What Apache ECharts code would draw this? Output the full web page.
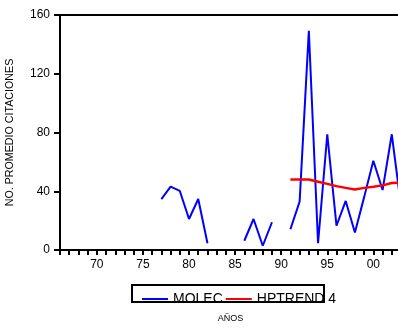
<!DOCTYPE html>
<html>
<head>
<meta charset="utf-8">
<script src="https://cdn.jsdelivr.net/npm/echarts@6/dist/echarts.min.js"></script>
<style>
  html, body { margin: 0; padding: 0; background: #fff; }
  #chart { width: 398px; height: 327px; }
</style>
</head>
<body>
<div id="chart"></div>
<script>
// Years of observation
const years = [1977, 1978, 1979, 1980, 1981, 1982, 1983, 1984, 1985, 1986, 1987, 1988, 1989, 1990,
               1991, 1992, 1993, 1994, 1995, 1996, 1997, 1998, 1999, 2000, 2001, 2002, 2003];
// Average number of citations per year (null = no data)
const molec = [34.7, 43.1, 40.2, 21.1, 34.7, 4.6, null, null, null, 6.3, 21.1, 2.9, 18.9, null,
               14.1, 32.9, 149.3, 4.6, 78.8, 16.5, 33.4, 11.9, 36, 60.8, 40.8, 78.8, 30];
// Hodrick-Prescott trend
const trendYears = [1991, 1992, 1993, 1994, 1995, 1996, 1997, 1998, 1999, 2000, 2001, 2002, 2003];
const hptrend = [48, 48, 48, 46.5, 45, 43.5, 42.3, 41.2, 42.3, 43, 44, 45.6, 45.8];

const yTicks = [0, 40, 80, 120, 160];

const pairs = (xs, ys) => xs.map((x, i) => [x, ys[i]]);

const chart = echarts.init(document.getElementById('chart'), null, { renderer: 'canvas' });
const font = 'Liberation Sans, Arial, sans-serif';

chart.setOption({
  animation: false,
  backgroundColor: '#fff',
  grid: {
    left: 60, width: 341, top: 15, bottom: 77,
    outerBoundsMode: 'none', containLabel: false,
    show: true, borderColor: '#000', borderWidth: 2, backgroundColor: 'transparent'
  },
  xAxis: {
    type: 'value',
    min: 1966, max: 2003, interval: 1,
    name: 'AÑOS',
    nameLocation: 'middle',
    nameGap: 64,
    nameTextStyle: { fontFamily: font, fontSize: 9, color: '#000' },
    axisLine: { lineStyle: { color: '#000', width: 2 } },
    axisTick: { length: 5, lineStyle: { color: '#000', width: 2 } },
    axisLabel: {
      margin: 9, fontFamily: font, fontSize: 12, color: '#000',
      formatter: v => (v % 5 === 0 ? String(v % 100).padStart(2, '0') : '')
    },
    splitLine: { show: false }
  },
  yAxis: {
    type: 'value',
    min: yTicks[0], max: yTicks[yTicks.length - 1], interval: 40,
    name: 'NO. PROMEDIO CITACIONES',
    nameLocation: 'middle',
    nameRotate: 90,
    nameGap: 44,
    nameTextStyle: { fontFamily: font, fontSize: 10.7, color: '#000' },
    axisLine: { show: true, lineStyle: { color: '#000', width: 2 } },
    axisTick: { show: true, length: 6, lineStyle: { color: '#000', width: 2 } },
    axisLabel: { margin: 10, fontFamily: font, fontSize: 12, color: '#000' },
    splitLine: { show: false }
  },
  legend: {
    left: 137, top: 287,
    icon: 'rect',
    itemWidth: 26, itemHeight: 2, itemGap: 3,
    textStyle: { fontFamily: font, fontSize: 14, color: '#000' },
    data: ['MOLEC', 'HPTREND 4']
  },
  graphic: [{
    type: 'rect',
    shape: { x: 132, y: 285, width: 192, height: 17 },
    style: { fill: 'none', stroke: '#000', lineWidth: 2 },
    z: 10
  }],
  series: [
    {
      name: 'MOLEC', type: 'line', data: pairs(years, molec),
      symbol: 'none', connectNulls: false,
      lineStyle: { color: '#0000ff', width: 2 }, itemStyle: { color: '#0000ff' }
    },
    {
      name: 'HPTREND 4', type: 'line', data: pairs(trendYears, hptrend),
      symbol: 'none', smooth: false,
      lineStyle: { color: '#ff0000', width: 2.5 }, itemStyle: { color: '#ff0000' }
    }
  ]
});
</script>
</body>
</html>
